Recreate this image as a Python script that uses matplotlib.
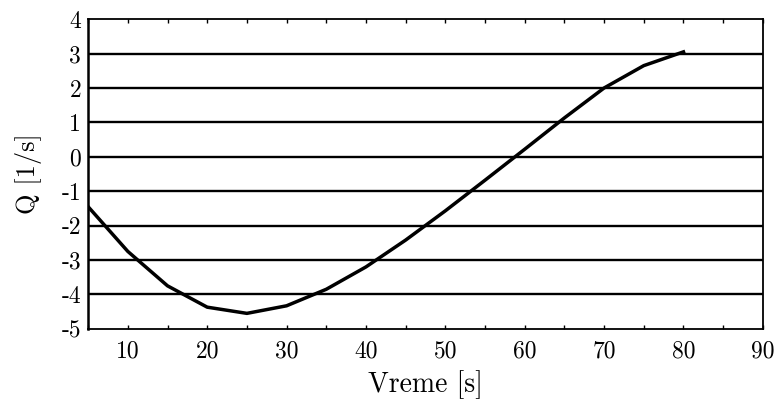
import matplotlib
matplotlib.use("Agg")
import matplotlib.pyplot as plt
import numpy as np

plt.rcParams["font.family"] = "cmr10"
plt.rcParams["mathtext.fontset"] = "cm"
plt.rcParams["axes.unicode_minus"] = False

# flow rate sampled every 5 s
vreme = [5, 10, 15, 20, 25, 30, 35, 40, 45, 50, 55, 60, 65, 70, 75, 80]
protok = [-1.45, -2.75, -3.75, -4.37, -4.55, -4.33, -3.85, -3.2,
          -2.42, -1.57, -0.68, 0.22, 1.13, 2.0, 2.65, 3.05]
x_ticks = [10, 20, 30, 40, 50, 60, 70, 80, 90]
y_ticks = [-5, -4, -3, -2, -1, 0, 1, 2, 3, 4]

fig = plt.figure(figsize=(7.8, 4.08), dpi=100)
ax = fig.add_axes([0.113, 0.194, 0.865, 0.759])

for yv in y_ticks[1:-1]:
    ax.axhline(yv, color="black", linewidth=1.7, zorder=1)

ax.plot(vreme, protok, color="black", linewidth=2.5, zorder=3)

ax.set_xlim(5, 90)
ax.set_ylim(-5, 4)
ax.set_xticks(x_ticks)
ax.set_xticks(np.arange(5, 91, 5), minor=True)
ax.set_yticks(y_ticks)
ax.set_yticklabels([str(v) for v in y_ticks])
ax.tick_params(axis="x", which="both", direction="in", top=True,
               length=3, width=1, labelsize=17, pad=8)
ax.tick_params(axis="y", length=0, labelsize=17, pad=5)

for side in ["top", "right", "bottom"]:
    ax.spines[side].set_linewidth(1.3)
ax.spines["left"].set_linewidth(1.8)

ax.set_xlabel("Vreme [s]", fontsize=20, labelpad=6)
ax.set_ylabel("Q [1/s]", fontsize=19, labelpad=14)

fig.savefig("out.png", dpi=100)
